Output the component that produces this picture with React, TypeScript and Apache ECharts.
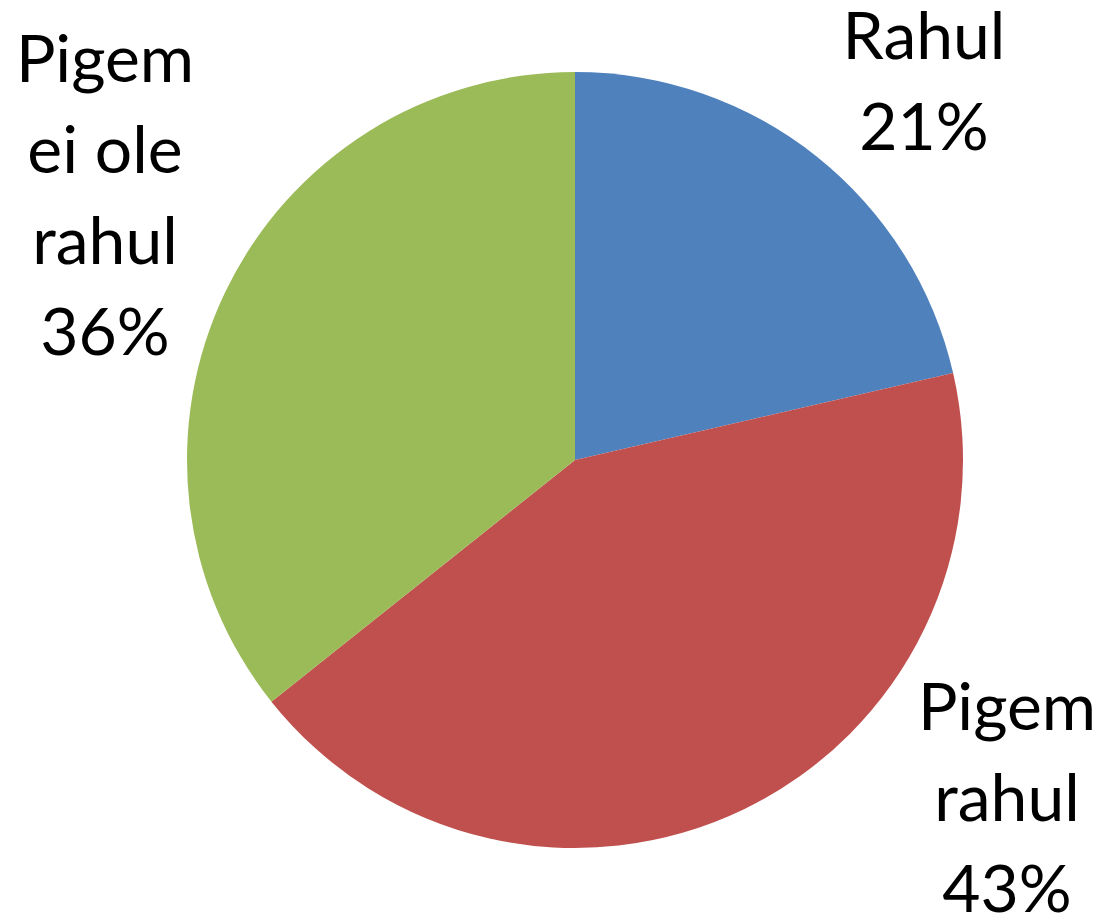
import React, { useEffect, useRef } from "react";
import * as echarts from "echarts";

const categories = ["Rahul", "Pigem rahul", "Pigem ei ole rahul"];
const labelNames = ["Rahul", "Pigem\nrahul", "Pigem\nei ole\nrahul"];
const values = [21.4, 42.9, 35.7];
const colors = ["#4F81BD", "#C0504D", "#9BBB59"];
const labelCenters = [
  [924, 79],
  [1007, 795],
  [105, 193],
];

export default function App() {
  const ref = useRef<HTMLDivElement>(null);
  useEffect(() => {
    if (!ref.current) return;
    const chart = echarts.init(ref.current, undefined, { renderer: "svg" });
    chart.setOption({
      animation: false,
      backgroundColor: "#ffffff",
      series: [
        {
          type: "pie",
          center: [575, 460],
          radius: 388,
          startAngle: 90,
          clockwise: true,
          avoidLabelOverlap: false,
          percentPrecision: 0,
          data: categories.map((c, i) => ({
            name: c,
            value: values[i],
            itemStyle: { color: colors[i] },
            label: { formatter: labelNames[i] + "\n{d}%" },
          })),
          itemStyle: { borderWidth: 0 },
          label: {
            show: true,
            position: "outside",
            color: "#000000",
            fontFamily: "Lato",
            fontSize: 66,
            lineHeight: 91,
            align: "center",
          },
          labelLine: { show: false },
          labelLayout: (params: any) => ({
            x: labelCenters[params.dataIndex][0],
            y: labelCenters[params.dataIndex][1],
            align: "center",
            verticalAlign: "middle",
          }),
          emphasis: { disabled: true },
        },
      ],
    });
    return () => chart.dispose();
  }, []);
  return (
    <div
      ref={ref}
      style={{ position: "fixed", left: 0, top: 0, width: 1103, height: 917 }}
    />
  );
}
